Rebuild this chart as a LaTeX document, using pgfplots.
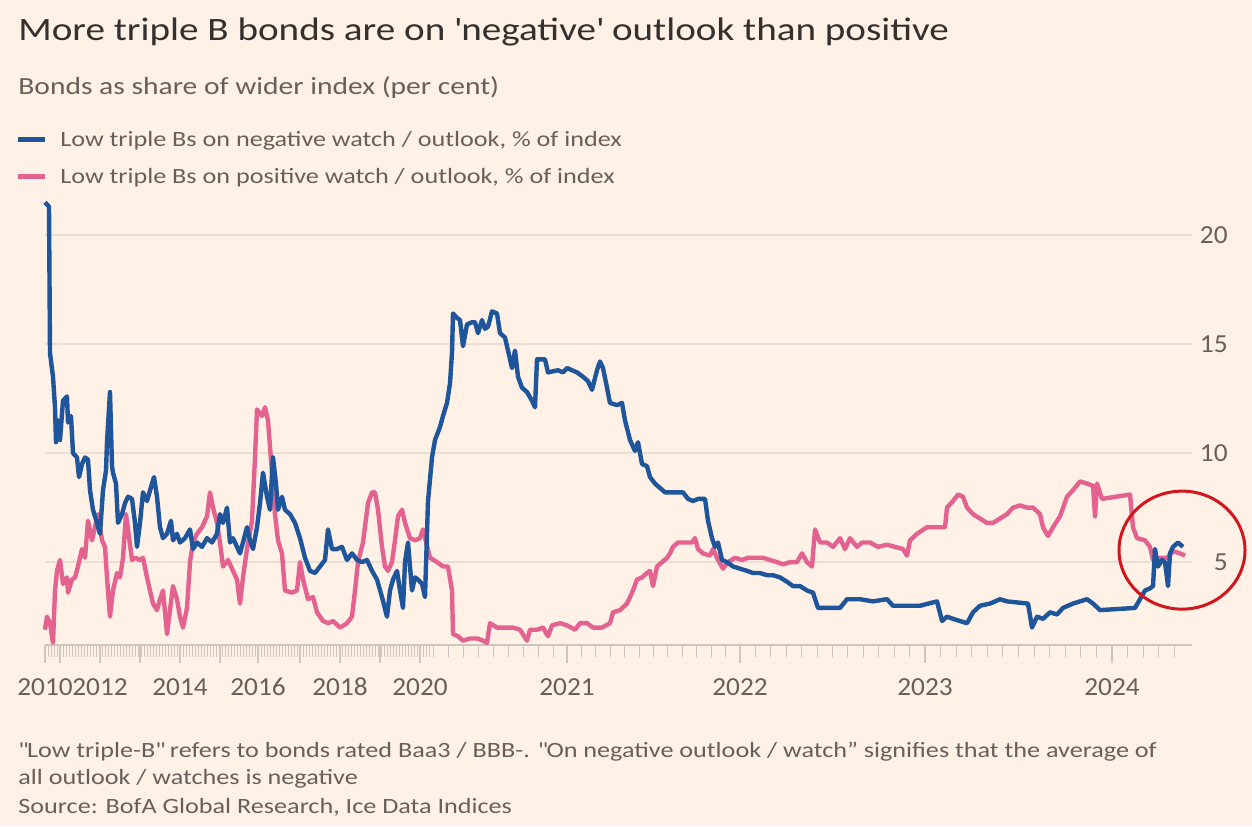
\documentclass[border=0pt]{standalone}
\usepackage{fontspec}
\setmainfont{Carlito}[FakeStretch=1.2]
\newfontfamily\tickfont{Carlito}[FakeStretch=1.05]
\usepackage{pgfplots}
\pgfplotsset{compat=1.18}
\definecolor{bg}{HTML}{FFF1E5}
\definecolor{titlecol}{HTML}{33302E}
\definecolor{txt}{HTML}{66605C}
\definecolor{gridc}{HTML}{EBDFD4}
\definecolor{axc}{HTML}{CFC5BC}
\definecolor{blueS}{HTML}{1E559B}
\definecolor{pinkS}{HTML}{E3628F}
\definecolor{redc}{HTML}{D2161E}
\begin{document}
\begin{tikzpicture}
\fill[bg] (0,0) rectangle (626pt,413pt);
\begin{scope}[x=0.5pt,y=-0.5pt,shift={(0pt,413pt)}]
\node[anchor=base west, inner sep=0, font=\fontsize{16.3}{19}\selectfont, text=titlecol] at (18,41) {More triple B bonds are on \textquotesingle negative\textquotesingle{} outlook than positive};
\node[anchor=base west, inner sep=0, font=\fontsize{12.3}{14}\selectfont, text=txt] at (18,95) {Bonds as share of wider index (per cent)};
\draw[blueS, line width=2.5pt] (18,140) -- (45,140);
\node[anchor=base west, inner sep=0, font=\fontsize{10.9}{13}\selectfont, text=txt] at (60,147) {Low triple Bs on negative watch / outlook, \% of index};
\draw[pinkS, line width=2.5pt] (18,177) -- (45,177);
\node[anchor=base west, inner sep=0, font=\fontsize{10.9}{13}\selectfont, text=txt] at (60,184) {Low triple Bs on positive watch / outlook, \% of index};
\node[anchor=base west, inner sep=0, font=\fontsize{10.9}{12}\selectfont, text=txt] at (18,757) {\textquotedbl Low triple-B\textquotedbl{} refers to bonds rated Baa3 / BBB-. \textquotedbl On negative outlook / watch” signifies that the average of};
\node[anchor=base west, inner sep=0, font=\fontsize{10.9}{12}\selectfont, text=txt] at (18,784) {all outlook / watches is negative};
\node[anchor=base west, inner sep=0, font=\fontsize{10.9}{12}\selectfont, text=txt] at (18,813) {Source: BofA Global Research, Ice Data Indices};
\foreach \v/\py in {20/235,15/344,10/453,5/562}
  \node[anchor=east, inner sep=0, font=\tickfont\fontsize{13}{15}\selectfont, text=txt] at (1228,\py) {\v};
\end{scope}
\begin{axis}[
  at={(22.5pt,90.5pt)}, anchor=south west,
  scale only axis, width=573.5pt, height=226.8pt,
  xmin=45, xmax=1192, ymin=1.2, ymax=22,
  clip=false,
  axis x line*=bottom,
  axis y line*=right,
  y axis line style={draw=none},
  x axis line style={draw=axc, line width=0.8pt, -},
  ytick={5,10,15,20},
  yticklabels={},
  ymajorgrids, grid style={draw=gridc, line width=0.8pt},
  major y tick style={draw=none},
  xtick={45,60,100,140,180,220,258,300,340,380,420,567,740,925,1112},
  xticklabels={2010,,2012,,2014,,2016,,2018,,2020,2021,2022,2023,2024},
  typeset ticklabels with strut,
  xticklabel style={font=\tickfont\fontsize{13}{15}\selectfont, text=txt, yshift=-2pt},
  minor xtick={48,51,...,429,433,448,463,478,493,508,523,538,553,581.4,595.8,610.3,624.7,639.1,653.5,667.9,682.3,696.8,711.2,725.6,755.4,770.8,786.3,801.7,817.1,832.5,847.9,863.3,878.8,894.2,909.6,940.6,956.2,971.8,987.3,1002.9,1018.5,1034.1,1049.7,1065.2,1080.8,1096.4,1127.6,1143.2,1158.8,1174.3},
  tick align=outside,
  major tick length=9pt, minor tick length=6pt,
  major x tick style={draw=axc, line width=0.6pt},
  minor x tick style={draw=axc, line width=0.5pt},
]
\addplot[pinkS, line width=2.2pt, line join=round] coordinates {
(45,1.9)(47,2.5)(50,2.2)(53,1.3)(55,3.7)(57,4.6)(60,5.1)(63,4.0)(67,4.3)(68,3.6)(72,4.2)(75,4.3)(78,4.8)(82,5.6)(85,5.2)(88,6.9)(92,6.0)(95,6.6)(98,7.2)(102,6.0)(105,5.7)(107,4.3)(110,2.5)(113,3.7)(117,4.5)(120,4.3)(123,5.2)(126,7.2)(128,6.5)(132,5.1)(135,5.2)(140,5.1)(143,5.2)(147,4.3)(150,3.7)(153,3.1)(157,2.8)(160,3.3)(163,3.7)(167,1.7)(170,2.8)(173,3.9)(177,3.3)(180,2.5)(183,2.0)(187,2.9)(190,5.0)(193,5.9)(197,6.3)(202,6.6)(207,7.1)(210,8.2)(213,7.5)(217,6.8)(220,5.9)(223,4.8)(228,5.1)(233,4.6)(237,4.2)(240,3.1)(243,4.3)(247,5.6)(252,6.9)(255,9.8)(257,12.0)(262,11.7)(265,12.1)(268,11.5)(272,9.1)(275,7.2)(278,6.0)(282,5.4)(285,3.7)(292,3.6)(297,3.7)(300,5.0)(303,4.2)(308,3.3)(313,3.4)(317,2.7)(323,2.3)(328,2.2)(333,2.3)(340,2.0)(347,2.2)(352,2.5)(355,3.7)(358,5.0)(363,5.9)(368,7.7)(372,8.2)(375,8.2)(378,7.4)(382,5.7)(385,4.8)(388,4.6)(392,5.0)(395,6.0)(398,7.1)(402,7.4)(405,6.8)(410,6.1)(415,6.0)(420,6.1)(423,6.5)(430,5.2)(437,5.0)(443,4.8)(448,4.8)(452,3.7)(453,1.7)(458,1.6)(463,1.4)(470,1.5)(477,1.5)(483,1.4)(487,1.3)(490,2.2)(497,2.0)(507,2.0)(513,2.0)(520,1.9)(527,1.4)(530,1.9)(537,1.9)(543,2.0)(548,1.6)(552,2.1)(560,2.2)(567,2.1)(575,1.9)(580,2.2)(587,2.2)(593,2.0)(602,2.0)(610,2.2)(613,2.7)(620,2.8)(627,3.1)(633,3.7)(637,4.2)(642,4.3)(647,4.5)(650,4.6)(653,3.9)(657,4.8)(662,5.0)(667,5.2)(670,5.4)(673,5.7)(678,5.9)(687,5.9)(692,5.9)(695,6.1)(698,5.6)(703,5.4)(710,5.3)(713,5.6)(718,5.1)(723,4.7)(728,5.0)(735,5.2)(742,5.1)(748,5.2)(757,5.2)(763,5.2)(770,5.1)(777,5.0)(783,4.9)(790,5.0)(797,5.0)(802,5.4)(807,5.0)(812,4.8)(815,6.5)(820,5.9)(827,5.9)(833,5.7)(840,6.1)(845,5.6)(850,6.1)(857,5.7)(862,5.9)(870,5.9)(878,5.7)(887,5.8)(895,5.7)(903,5.6)(907,5.3)(910,6.0)(917,6.3)(927,6.6)(945,6.6)(947,7.5)(953,7.8)(958,8.1)(963,8.0)(967,7.5)(973,7.2)(980,7.0)(987,6.8)(993,6.8)(1000,7.0)(1007,7.2)(1013,7.5)(1020,7.6)(1027,7.5)(1033,7.5)(1040,7.2)(1043,6.6)(1048,6.2)(1053,6.6)(1060,7.1)(1067,8.0)(1073,8.3)(1080,8.7)(1087,8.6)(1093,8.5)(1095,7.1)(1097,8.6)(1102,7.9)(1130,8.1)(1133,6.6)(1137,6.1)(1145,6.0)(1150,5.7)(1153,5.1)(1160,5.2)(1167,5.2)(1173,5.5)(1180,5.4)(1185,5.3)
};
\addplot[blueS, line width=2.2pt, line join=round] coordinates {
(45,21.5)(49,21.3)(50,14.6)(53,13.5)(55,12.1)(56,10.5)(58,11.5)(60,10.6)(63,12.4)(67,12.6)(68,11.4)(71,11.7)(73,10.0)(77,9.8)(79,8.9)(82,9.5)(85,9.8)(88,9.7)(90,8.3)(93,7.4)(97,6.8)(100,6.3)(103,8.3)(106,9.2)(107,10.5)(110,12.8)(112,9.4)(113,9.1)(116,8.6)(118,6.8)(122,7.2)(125,7.7)(128,8.0)(132,7.9)(135,6.8)(137,5.7)(140,6.8)(143,8.2)(147,7.8)(152,8.6)(154,8.9)(157,8.0)(160,6.6)(163,6.1)(167,6.3)(171,6.9)(173,6.0)(177,6.3)(180,5.9)(185,6.1)(190,6.5)(193,5.6)(197,5.9)(202,5.7)(207,6.1)(212,5.9)(217,6.3)(220,7.2)(223,6.8)(227,7.5)(230,5.9)(233,6.1)(237,5.7)(240,5.4)(243,5.9)(247,6.6)(250,6.0)(253,5.6)(257,6.6)(260,7.7)(263,9.1)(267,8.0)(270,7.4)(273,9.8)(276,8.6)(278,7.4)(282,8.0)(285,7.4)(290,7.2)(295,6.8)(300,6.1)(305,5.2)(310,4.6)(315,4.5)(320,4.8)(325,5.1)(328,6.5)(332,5.6)(337,5.6)(342,5.7)(347,5.1)(352,5.4)(357,5.1)(362,5.0)(367,5.1)(372,4.6)(377,4.2)(382,3.4)(387,2.5)(390,3.7)(393,4.2)(397,4.6)(400,3.7)(403,2.9)(405,5.0)(408,5.9)(412,3.7)(415,4.3)(418,4.2)(422,4.0)(425,3.4)(428,7.8)(432,9.8)(435,10.6)(440,11.2)(443,11.7)(447,12.3)(450,13.2)(452,14.6)(453,16.4)(457,16.2)(460,16.1)(463,14.9)(467,15.9)(472,16.0)(475,16.0)(478,15.5)(482,16.1)(485,15.7)(488,15.8)(492,16.5)(497,16.4)(500,15.5)(505,15.3)(508,14.7)(512,13.9)(515,14.7)(518,13.5)(522,13.0)(527,12.8)(532,12.4)(535,12.1)(537,14.3)(545,14.3)(548,13.7)(558,13.8)(563,13.7)(567,13.9)(577,13.7)(583,13.5)(588,13.3)(592,12.9)(597,13.8)(600,14.2)(603,13.9)(607,13.0)(610,12.3)(617,12.2)(622,12.3)(625,11.5)(630,10.6)(635,10.1)(638,10.5)(642,9.5)(647,9.4)(650,8.9)(655,8.6)(660,8.4)(665,8.2)(683,8.2)(688,7.9)(693,7.8)(698,7.9)(705,7.9)(708,6.9)(712,6.1)(715,5.7)(718,5.9)(722,5.1)(727,5.0)(733,4.8)(740,4.7)(747,4.6)(753,4.5)(760,4.5)(767,4.4)(773,4.4)(780,4.3)(787,4.1)(793,3.9)(800,3.9)(807,3.7)(813,3.6)(818,2.9)(827,2.9)(840,2.9)(847,3.3)(860,3.3)(873,3.2)(887,3.3)(893,3.0)(920,3.0)(937,3.2)(942,2.3)(947,2.5)(953,2.4)(960,2.3)(967,2.2)(973,2.7)(980,3.0)(990,3.1)(1000,3.3)(1007,3.2)(1028,3.1)(1032,2.0)(1037,2.5)(1043,2.4)(1050,2.7)(1057,2.6)(1063,2.9)(1073,3.1)(1087,3.3)(1093,3.1)(1100,2.8)(1135,2.9)(1140,3.3)(1145,3.7)(1150,3.8)(1153,3.9)(1155,5.6)(1158,4.8)(1162,5.1)(1165,5.0)(1168,3.9)(1170,5.4)(1173,5.7)(1178,5.9)(1183,5.7)
};
\draw[redc, line width=1.5pt] (axis cs:1182,5.55) ellipse [x radius=31.5pt, y radius=29.5pt];
\end{axis}
\pgfresetboundingbox
\useasboundingbox (0,0) rectangle (626pt,413pt);
\end{tikzpicture}
\end{document}
